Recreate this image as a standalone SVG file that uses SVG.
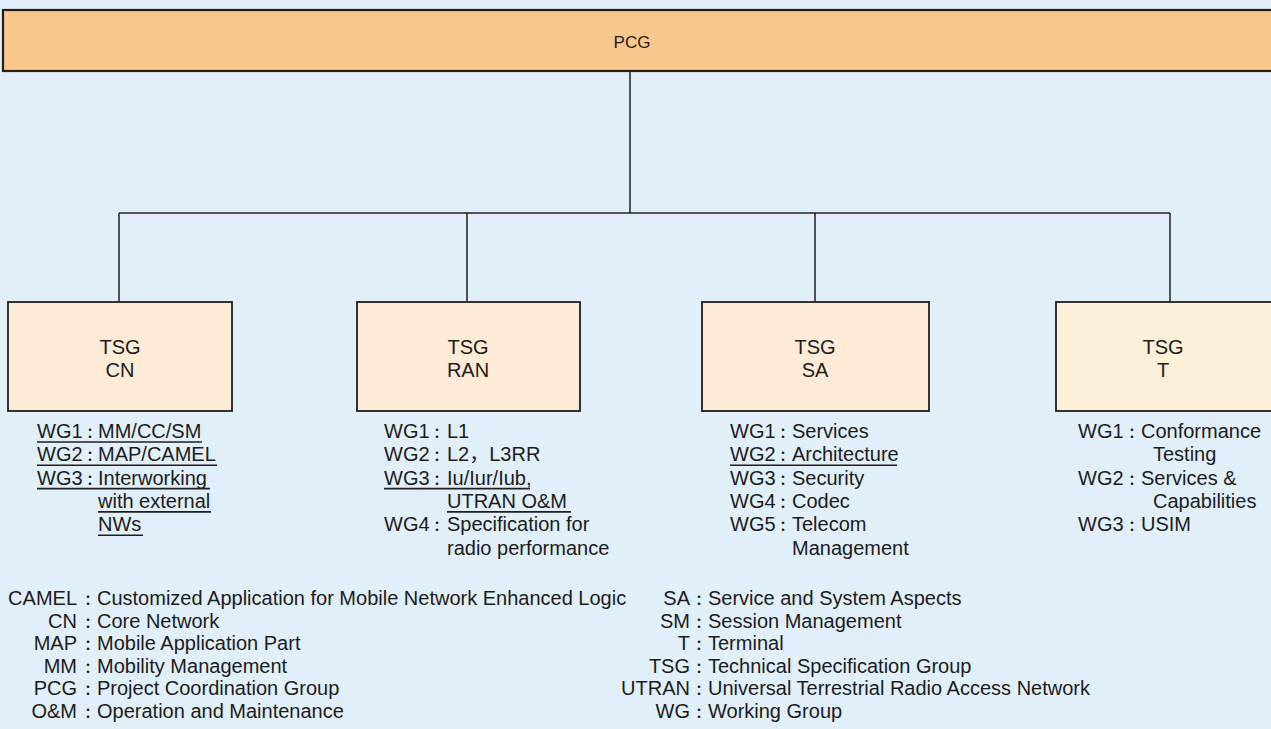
<svg xmlns="http://www.w3.org/2000/svg" width="1271" height="729" viewBox="0 0 1271 729">
<style>
text{font-family:"Liberation Sans",Arial,"Noto Sans CJK JP",sans-serif;font-size:20px;fill:#1c1c1c}
.pcg{fill:#f7c78c;stroke:#1f1f1f;stroke-width:2.2}
.tsg{fill:#fcebd6;stroke:#1f1f1f;stroke-width:1.8}
.tsgt{fill:#fdf0d9;stroke:#1f1f1f;stroke-width:1.8}
.c{stroke:#1f1f1f;stroke-width:1.5;fill:none}
.u{stroke:#1f1f1f;stroke-width:1.6}
.m{text-anchor:middle}
.e{text-anchor:end}
.k{text-anchor:middle;font-size:14px;font-weight:bold}
</style>
<rect width="1271" height="729" fill="#e1eff9"/>
<g id="connectors">
<line class="c" x1="630" y1="71" x2="630" y2="213"/>
<line class="c" x1="119" y1="213" x2="1170" y2="213"/>
<line class="c" x1="119" y1="213" x2="119" y2="302"/>
<line class="c" x1="467" y1="213" x2="467" y2="302"/>
<line class="c" x1="815" y1="213" x2="815" y2="302"/>
<line class="c" x1="1170" y1="213" x2="1170" y2="302"/>
</g>
<g id="pcg">
<rect class="pcg" x="3" y="10" width="1285" height="61"/>
<text x="632" y="48" class="m" style="font-size:17px">PCG</text>
</g>
<g id="tsg-cn">
<rect class="tsg" x="8" y="302" width="224" height="109"/>
<text x="120" y="354" class="m">TSG</text>
<text x="120" y="377" class="m">CN</text>
</g>
<g id="tsg-ran">
<rect class="tsg" x="357" y="302" width="223" height="109"/>
<text x="468" y="354" class="m">TSG</text>
<text x="468" y="377" class="m">RAN</text>
</g>
<g id="tsg-sa">
<rect class="tsg" x="702" y="302" width="227" height="109"/>
<text x="815" y="354" class="m">TSG</text>
<text x="815" y="377" class="m">SA</text>
</g>
<g id="tsg-t">
<rect class="tsgt" x="1056" y="302" width="230" height="109"/>
<text x="1163" y="354" class="m">TSG</text>
<text x="1163" y="377" class="m">T</text>
</g>
<g id="wg-cn">
<text y="438"><tspan x="37">WG1</tspan><tspan x="90" class="k">：</tspan><tspan x="98">MM/CC/SM</tspan></text>
<text y="461.3"><tspan x="37">WG2</tspan><tspan x="90" class="k">：</tspan><tspan x="98">MAP/CAMEL</tspan></text>
<text y="484.6"><tspan x="37">WG3</tspan><tspan x="90" class="k">：</tspan><tspan x="98">Interworking</tspan></text>
<text x="98" y="507.9">with external</text>
<text x="98" y="531.2">NWs</text>
<line class="u" x1="37" y1="442" x2="202" y2="442"/>
<line class="u" x1="37" y1="465.3" x2="217" y2="465.3"/>
<line class="u" x1="37" y1="488.6" x2="210" y2="488.6"/>
<line class="u" x1="98" y1="511.9" x2="211" y2="511.9"/>
<line class="u" x1="98" y1="535.2" x2="143" y2="535.2"/>
</g>
<g id="wg-ran">
<text y="438"><tspan x="384">WG1</tspan><tspan x="437" class="k">：</tspan><tspan x="447">L1</tspan></text>
<text y="461.3"><tspan x="384">WG2</tspan><tspan x="437" class="k">：</tspan><tspan x="447">L2，L3RR</tspan></text>
<text y="484.6"><tspan x="384">WG3</tspan><tspan x="437" class="k">：</tspan><tspan x="447">Iu/Iur/Iub,</tspan></text>
<text x="447" y="507.9">UTRAN O&amp;M</text>
<text y="531.2"><tspan x="384">WG4</tspan><tspan x="437" class="k">：</tspan><tspan x="447">Specification for</tspan></text>
<text x="447" y="554.5">radio performance</text>
<line class="u" x1="384" y1="488.6" x2="530" y2="488.6"/>
<line class="u" x1="447" y1="511.9" x2="571" y2="511.9"/>
</g>
<g id="wg-sa">
<text y="438"><tspan x="730">WG1</tspan><tspan x="783" class="k">：</tspan><tspan x="792">Services</tspan></text>
<text y="461.3"><tspan x="730">WG2</tspan><tspan x="783" class="k">：</tspan><tspan x="792">Architecture</tspan></text>
<text y="484.6"><tspan x="730">WG3</tspan><tspan x="783" class="k">：</tspan><tspan x="792">Security</tspan></text>
<text y="507.9"><tspan x="730">WG4</tspan><tspan x="783" class="k">：</tspan><tspan x="792">Codec</tspan></text>
<text y="531.2"><tspan x="730">WG5</tspan><tspan x="783" class="k">：</tspan><tspan x="792">Telecom</tspan></text>
<text x="792" y="554.5">Management</text>
<line class="u" x1="730" y1="465.3" x2="897" y2="465.3"/>
</g>
<g id="wg-t">
<text y="438"><tspan x="1078">WG1</tspan><tspan x="1132" class="k">：</tspan><tspan x="1141">Conformance</tspan></text>
<text x="1153" y="461.3">Testing</text>
<text y="484.6"><tspan x="1078">WG2</tspan><tspan x="1132" class="k">：</tspan><tspan x="1141">Services &amp;</tspan></text>
<text x="1153" y="507.9">Capabilities</text>
<text y="531.2"><tspan x="1078">WG3</tspan><tspan x="1132" class="k">：</tspan><tspan x="1141">USIM</tspan></text>
</g>
<g id="legend-left">
<text y="605"><tspan x="77" class="e">CAMEL</tspan><tspan x="88" class="k">：</tspan><tspan x="97">Customized Application for Mobile Network Enhanced Logic</tspan></text>
<text y="627.6"><tspan x="77" class="e">CN</tspan><tspan x="88" class="k">：</tspan><tspan x="97">Core Network</tspan></text>
<text y="650.2"><tspan x="77" class="e">MAP</tspan><tspan x="88" class="k">：</tspan><tspan x="97">Mobile Application Part</tspan></text>
<text y="672.8"><tspan x="77" class="e">MM</tspan><tspan x="88" class="k">：</tspan><tspan x="97">Mobility Management</tspan></text>
<text y="695.4"><tspan x="77" class="e">PCG</tspan><tspan x="88" class="k">：</tspan><tspan x="97">Project Coordination Group</tspan></text>
<text y="718"><tspan x="77" class="e">O&amp;M</tspan><tspan x="88" class="k">：</tspan><tspan x="97">Operation and Maintenance</tspan></text>
</g>
<g id="legend-right">
<text y="605"><tspan x="690" class="e">SA</tspan><tspan x="699" class="k">：</tspan><tspan x="708">Service and System Aspects</tspan></text>
<text y="627.6"><tspan x="690" class="e">SM</tspan><tspan x="699" class="k">：</tspan><tspan x="708">Session Management</tspan></text>
<text y="650.2"><tspan x="690" class="e">T</tspan><tspan x="699" class="k">：</tspan><tspan x="708">Terminal</tspan></text>
<text y="672.8"><tspan x="690" class="e">TSG</tspan><tspan x="699" class="k">：</tspan><tspan x="708">Technical Specification Group</tspan></text>
<text y="695.4"><tspan x="690" class="e">UTRAN</tspan><tspan x="699" class="k">：</tspan><tspan x="708">Universal Terrestrial Radio Access Network</tspan></text>
<text y="718"><tspan x="690" class="e">WG</tspan><tspan x="699" class="k">：</tspan><tspan x="708">Working Group</tspan></text>
</g>
</svg>
